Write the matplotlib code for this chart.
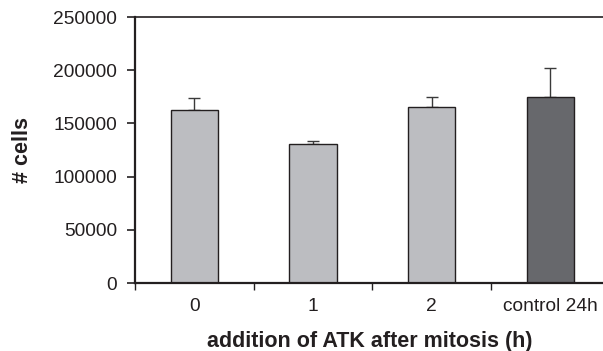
import matplotlib
matplotlib.use("Agg")
import matplotlib.pyplot as plt

categories = ["0", "1", "2", "control 24h"]
values = [162500, 130500, 165000, 175000]
errors = [11500, 2800, 10000, 27500]
colors = ["#bcbdc1", "#bcbdc1", "#bcbdc1", "#67686c"]
yticks = [0, 50000, 100000, 150000, 200000, 250000]

plt.rcParams["font.family"] = ["Liberation Sans", "DejaVu Sans"]
ink = "#231f20"

fig = plt.figure(figsize=(6.03, 3.51), dpi=100)
ax = fig.add_axes([135/603, 1-283/351, 1-135/603, (283-17)/351])

x = list(range(len(categories)))
ax.bar(x, values, width=0.4, color=colors, edgecolor=ink, linewidth=1.0, zorder=2)
ax.errorbar(x, values, yerr=[[0]*len(errors), errors], fmt="none",
            ecolor="#3a3a3a", elinewidth=1.0, capsize=4.3, capthick=1.0, zorder=1)

ax.set_xlim(-0.5, -0.5 + (603-135)/118.7)
ax.set_ylim(0, 250000)
ax.set_yticks(yticks)
ax.set_yticklabels([str(v) for v in yticks], fontsize=13.8, color=ink)
ax.set_xticks(x)
ax.set_xticklabels(categories, fontsize=13.8, color=ink)
ax.tick_params(axis="x", which="major", length=0, pad=11)
ax.set_xticks([-0.5, 0.5, 1.5, 2.5], minor=True)
ax.tick_params(axis="x", which="minor", length=5, width=1.0, color=ink, direction="out")
ax.tick_params(axis="y", length=6, width=1.2, color=ink, direction="out", pad=7)

ax.spines["right"].set_visible(False)
ax.spines["left"].set_linewidth(1.6)
ax.spines["bottom"].set_linewidth(1.6)
ax.spines["top"].set_linewidth(1.2)
for s in ax.spines.values():
    s.set_color(ink)

fig.text(22/603, 1-150/351, "# cells", rotation=90, ha="center", va="center",
         fontsize=15.5, fontweight="bold", color=ink)
fig.text(370/603, 1-341/351, "addition of ATK after mitosis (h)", ha="center", va="center",
         fontsize=15.5, fontweight="bold", color=ink)

fig.savefig("out.png", dpi=100)
